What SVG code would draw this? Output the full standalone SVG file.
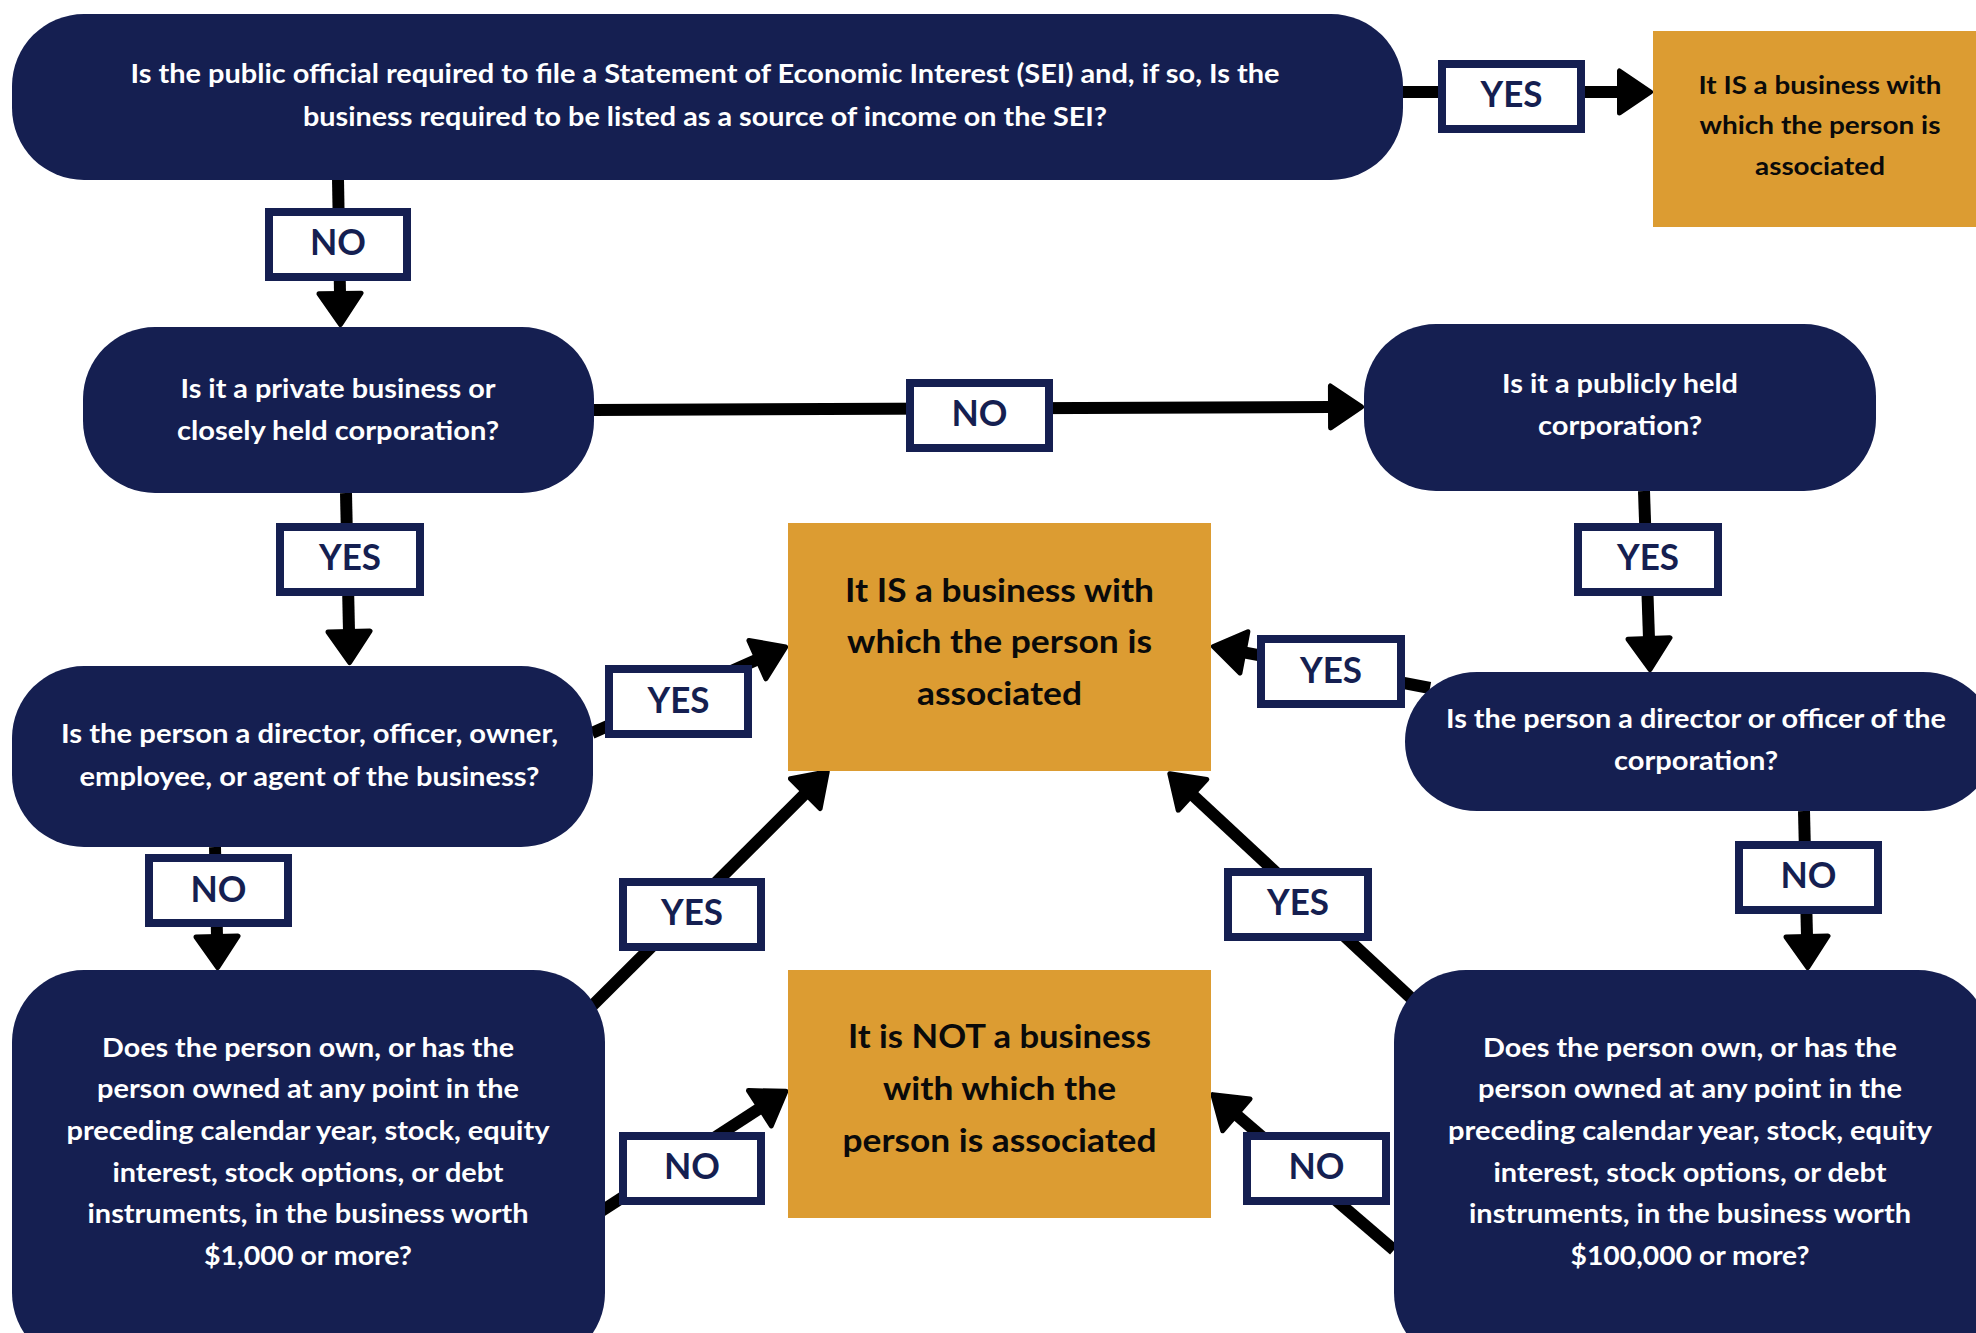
<svg xmlns="http://www.w3.org/2000/svg" width="1976" height="1333" viewBox="0 0 1976 1333">
<style>
.q{fill:#151f51}
.o{fill:#dc9c32}
.qt{font-family:Lato,"Liberation Sans",sans-serif;font-weight:700;font-size:26px;fill:#ffffff;text-anchor:middle}
.ot{font-family:Lato,"Liberation Sans",sans-serif;font-weight:700;font-size:32px;fill:#0a0a0a;text-anchor:middle}
.os{font-family:Lato,"Liberation Sans",sans-serif;font-weight:700;font-size:24px;fill:#0a0a0a;text-anchor:middle}
.lb{fill:#ffffff;stroke:#151f51;stroke-width:8}
.lt{font-family:Lato,"Liberation Sans",sans-serif;font-weight:700;font-size:37px;fill:#151f51;text-anchor:middle}
.c{fill:none;stroke:#000;stroke-width:12;marker-end:url(#ah)}
</style>
<defs>
<marker id="ah" markerUnits="userSpaceOnUse" markerWidth="60" markerHeight="60" refX="-31" refY="0" orient="auto" overflow="visible" viewBox="-40 -30 50 60">
<path d="M0,0 L-31,-21 L-31,21 Z" fill="#000" stroke="#000" stroke-width="5" stroke-linejoin="round"/>
</marker>
</defs>
<rect width="1976" height="1333" fill="#ffffff"/>
<g id="connectors">
<path class="c" d="M1403,92 L1619.5,92"/>
<path class="c" d="M338,179 L340,293.5"/>
<path class="c" d="M594,410 L1330.5,407"/>
<path class="c" d="M346,493 L349,631.5"/>
<path class="c" d="M592,733 L757.4,659.6"/>
<path class="c" d="M1644,491 L1649,638.5"/>
<path class="c" d="M1430,688 L1243.9,652.3"/>
<path class="c" d="M1804,811 L1807,936.5"/>
<path class="c" d="M215,847 L217,936.5"/>
<path class="c" d="M590,1008 L805.3,793.6"/>
<path class="c" d="M600,1212 L759.9,1108.2"/>
<path class="c" d="M1411,998 L1192.5,794.8"/>
<path class="c" d="M1394,1250 L1236.4,1114.8"/>
</g>
<g id="n-sei">
<rect class="q" x="12" y="14" width="1391" height="166" rx="72" ry="72"/>
<text class="qt" x="705" y="83" textLength="1149" lengthAdjust="spacingAndGlyphs">Is the public official required to file a Statement of Economic Interest (SEI) and, if so, Is the</text>
<text class="qt" x="705" y="126" textLength="804" lengthAdjust="spacingAndGlyphs">business required to be listed as a source of income on the SEI?</text>
</g>
<g id="n-result-top">
<rect class="o" x="1653" y="31" width="330" height="196"/>
<text class="os" x="1820" y="94" textLength="243" lengthAdjust="spacingAndGlyphs">It IS a business with</text>
<text class="os" x="1820" y="134" textLength="241" lengthAdjust="spacingAndGlyphs">which the person is</text>
<text class="os" x="1820" y="175" textLength="130" lengthAdjust="spacingAndGlyphs">associated</text>
</g>
<g id="n-private">
<rect class="q" x="83" y="327" width="511" height="166" rx="72" ry="72"/>
<text class="qt" x="338" y="398" textLength="315" lengthAdjust="spacingAndGlyphs">Is it a private business or</text>
<text class="qt" x="338" y="440" textLength="322" lengthAdjust="spacingAndGlyphs">closely held corporation?</text>
</g>
<g id="n-public">
<rect class="q" x="1364" y="324" width="512" height="167" rx="72" ry="72"/>
<text class="qt" x="1620" y="393" textLength="236" lengthAdjust="spacingAndGlyphs">Is it a publicly held</text>
<text class="qt" x="1620" y="435" textLength="164" lengthAdjust="spacingAndGlyphs">corporation?</text>
</g>
<g id="n-role-private">
<rect class="q" x="12" y="666" width="581" height="181" rx="72" ry="72"/>
<text class="qt" x="309.5" y="743" textLength="497" lengthAdjust="spacingAndGlyphs">Is the person a director, officer, owner,</text>
<text class="qt" x="309.5" y="786" textLength="460" lengthAdjust="spacingAndGlyphs">employee, or agent of the business?</text>
</g>
<g id="n-role-public">
<rect class="q" x="1405" y="672" width="590" height="139" rx="72" ry="69"/>
<text class="qt" x="1696" y="728" textLength="500" lengthAdjust="spacingAndGlyphs">Is the person a director or officer of the</text>
<text class="qt" x="1696" y="770" textLength="164" lengthAdjust="spacingAndGlyphs">corporation?</text>
</g>
<g id="n-is-associated">
<rect class="o" x="788" y="523" width="423" height="248"/>
<text class="ot" x="999.5" y="602" textLength="309" lengthAdjust="spacingAndGlyphs">It IS a business with</text>
<text class="ot" x="999.5" y="653" textLength="305" lengthAdjust="spacingAndGlyphs">which the person is</text>
<text class="ot" x="999.5" y="705" textLength="165" lengthAdjust="spacingAndGlyphs">associated</text>
</g>
<g id="n-not-associated">
<rect class="o" x="788" y="970" width="423" height="248"/>
<text class="ot" x="999.5" y="1048" textLength="303" lengthAdjust="spacingAndGlyphs">It is NOT a business</text>
<text class="ot" x="999.5" y="1100" textLength="233" lengthAdjust="spacingAndGlyphs">with which the</text>
<text class="ot" x="999.5" y="1152" textLength="314" lengthAdjust="spacingAndGlyphs">person is associated</text>
</g>
<g id="n-own-1000">
<rect class="q" x="12" y="970" width="593" height="395" rx="72" ry="72"/>
<text class="qt" x="308" y="1057" textLength="412" lengthAdjust="spacingAndGlyphs">Does the person own, or has the</text>
<text class="qt" x="308" y="1098" textLength="422" lengthAdjust="spacingAndGlyphs">person owned at any point in the</text>
<text class="qt" x="308" y="1140" textLength="483" lengthAdjust="spacingAndGlyphs">preceding calendar year, stock, equity</text>
<text class="qt" x="308" y="1182" textLength="391" lengthAdjust="spacingAndGlyphs">interest, stock options, or debt</text>
<text class="qt" x="308" y="1223" textLength="441" lengthAdjust="spacingAndGlyphs">instruments, in the business worth</text>
<text class="qt" x="308" y="1265" textLength="208" lengthAdjust="spacingAndGlyphs">$1,000 or more?</text>
</g>
<g id="n-own-100000">
<rect class="q" x="1394" y="970" width="596" height="395" rx="72" ry="72"/>
<text class="qt" x="1690" y="1057" textLength="414" lengthAdjust="spacingAndGlyphs">Does the person own, or has the</text>
<text class="qt" x="1690" y="1098" textLength="424" lengthAdjust="spacingAndGlyphs">person owned at any point in the</text>
<text class="qt" x="1690" y="1140" textLength="484" lengthAdjust="spacingAndGlyphs">preceding calendar year, stock, equity</text>
<text class="qt" x="1690" y="1182" textLength="393" lengthAdjust="spacingAndGlyphs">interest, stock options, or debt</text>
<text class="qt" x="1690" y="1223" textLength="442" lengthAdjust="spacingAndGlyphs">instruments, in the business worth</text>
<text class="qt" x="1690" y="1265" textLength="239" lengthAdjust="spacingAndGlyphs">$100,000 or more?</text>
</g>
<g id="labels">
<rect class="lb" x="1442" y="64" width="139" height="65"/><text class="lt" x="1511.5" y="107" textLength="62" lengthAdjust="spacingAndGlyphs">YES</text>
<rect class="lb" x="269" y="212" width="138" height="65"/><text class="lt" x="338" y="255" textLength="56" lengthAdjust="spacingAndGlyphs">NO</text>
<rect class="lb" x="910" y="383" width="139" height="65"/><text class="lt" x="979.5" y="426" textLength="56" lengthAdjust="spacingAndGlyphs">NO</text>
<rect class="lb" x="280" y="527" width="140" height="65"/><text class="lt" x="350" y="570" textLength="62" lengthAdjust="spacingAndGlyphs">YES</text>
<rect class="lb" x="609" y="669" width="139" height="65"/><text class="lt" x="678.5" y="713" textLength="62" lengthAdjust="spacingAndGlyphs">YES</text>
<rect class="lb" x="1578" y="527" width="140" height="65"/><text class="lt" x="1648" y="570" textLength="62" lengthAdjust="spacingAndGlyphs">YES</text>
<rect class="lb" x="1261" y="639" width="140" height="65"/><text class="lt" x="1331" y="683" textLength="62" lengthAdjust="spacingAndGlyphs">YES</text>
<rect class="lb" x="1739" y="845" width="139" height="65"/><text class="lt" x="1808.5" y="888" textLength="56" lengthAdjust="spacingAndGlyphs">NO</text>
<rect class="lb" x="149" y="858" width="139" height="65"/><text class="lt" x="218.5" y="902" textLength="56" lengthAdjust="spacingAndGlyphs">NO</text>
<rect class="lb" x="623" y="882" width="138" height="65"/><text class="lt" x="692" y="925" textLength="62" lengthAdjust="spacingAndGlyphs">YES</text>
<rect class="lb" x="623" y="1136" width="138" height="65"/><text class="lt" x="692" y="1179" textLength="56" lengthAdjust="spacingAndGlyphs">NO</text>
<rect class="lb" x="1228" y="872" width="140" height="65"/><text class="lt" x="1298" y="915" textLength="62" lengthAdjust="spacingAndGlyphs">YES</text>
<rect class="lb" x="1247" y="1136" width="139" height="65"/><text class="lt" x="1316.5" y="1179" textLength="56" lengthAdjust="spacingAndGlyphs">NO</text>
</g>
</svg>
